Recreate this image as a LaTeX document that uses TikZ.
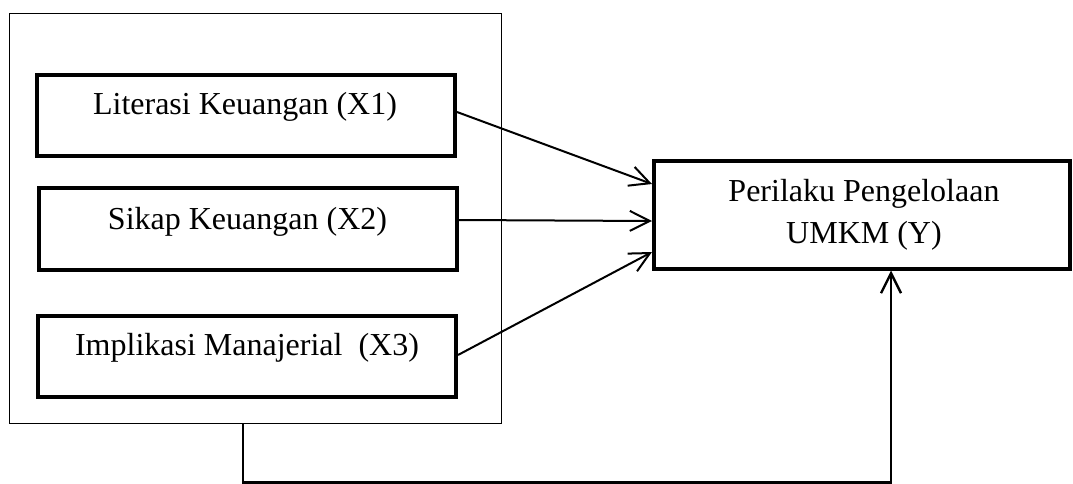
\documentclass[tikz,border=0pt]{standalone}
\usepackage{fontspec}
\setmainfont{Liberation Serif}
\usetikzlibrary{arrows.meta,calc}
\begin{document}
\begin{tikzpicture}[x=0.5pt,y=-0.5pt,
  bbox/.style={draw, line width=2pt, rectangle, inner sep=0pt},
  obox/.style={draw, line width=0.85pt, rectangle, inner sep=0pt},
  txt/.style={font=\fontsize{16}{21}\selectfont, inner sep=0pt, anchor=base},
  arr/.style={line width=1pt, -{Straight Barb[length=10pt,width=10pt]}}]
\useasboundingbox (0,0) rectangle (1073,483);
\node[obox, minimum width=246pt, minimum height=205pt] (outer) at (255.5,218.5) {};
\node[bbox, minimum width=209pt, minimum height=40.5pt] (x1) at (246,115.5) {};
\node[txt] (t1) at (245,114) {Literasi Keuangan (X1)};
\node[bbox, minimum width=209pt, minimum height=41pt] (x2) at (248,229) {};
\node[txt] (t2) at (247.5,229) {Sikap Keuangan (X2)};
\node[bbox, minimum width=209pt, minimum height=40.5pt] (x3) at (247,356.5) {};
\node[txt] (t3) at (247,355) {Implikasi Manajerial\ \ (X3)};
\node[bbox, minimum width=208pt, minimum height=53.75pt] (y) at (862,214.75) {};
\node[txt] (ty1) at (864,201) {Perilaku Pengelolaan};
\node[txt] (ty2) at (864,243) {UMKM (Y)};
\draw[arr] ($(x1.east)+(0,-3.5)$) -- ($(y.west)+(0,-30.75)$);
\draw[arr] ($(x2.east)+(0,-9)$) -- ($(y.west)+(0,6.25)$);
\draw[arr] ($(x3.east)+(0,-1.5)$) -- ($(y.west)+(0,37.25)$);
\draw[arr, line width=1.2pt] ($(outer.south)+(-12.5,0)$) -- ++(0,58) -| ($(y.south)+(29,0)$);
\end{tikzpicture}
\end{document}
